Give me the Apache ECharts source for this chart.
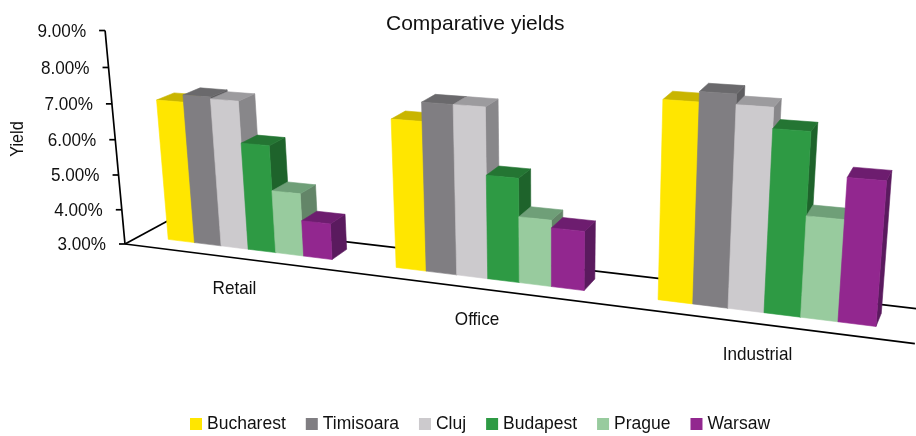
<!DOCTYPE html>
<html>
<head>
<meta charset="utf-8">
<style>html,body{margin:0;padding:0;background:#fff}#c{width:916px;height:436px}</style>
<script src="https://cdn.jsdelivr.net/npm/echarts@6/dist/echarts.min.js"></script>
</head>
<body>
<div id="c"></div>
<script>
const categories = ['Retail', 'Office', 'Industrial'];
const cities = ['Bucharest', 'Timisoara', 'Cluj', 'Budapest', 'Prague', 'Warsaw'];
const bucharest = [7.0, 7.0, 8.0];
const timisoara = [7.2, 7.5, 8.25];
const cluj = [7.15, 7.5, 8.0];
const budapest = [6.0, 5.75, 7.5];
const prague = [4.75, 4.75, 5.5];
const warsaw = [4.0, 4.55, 6.5];
const tickValues = [3, 4, 5, 6, 7, 8, 9];
const tickLabels = ['3.00%', '4.00%', '5.00%', '6.00%', '7.00%', '8.00%', '9.00%'];

const cityValues = [bucharest, timisoara, cluj, budapest, prague, warsaw];
const frontColors = ['#FFE600', '#807E82', '#CCCACD', '#2E9A44', '#98CB9E', '#92278F'];
const topColors = ['#C9B500', '#6A696C', '#9C9B9E', '#247533', '#6F9F78', '#6D1D6F'];
const sideColors = ['#B3A200', '#5E5D60', '#88878A', '#1E632B', '#638568', '#5A1A5E'];

const FONT = '"Liberation Sans", Arial, sans-serif';
const yMin = 3, yMax = 9;

// Three-point perspective camera: world X = category units, Y = percent above axis min, Z = floor depth 0..1
const ORIGIN = [125, 244];
const VP_X = [-3117, -165], VP_Y = [550, 4800], VP_Z = [1127, -296];
const PX = -0.0653, PY = -0.00746, PZ = 0.0448;
function project(X, Y, Z) {
  const a = PX * X, b = PY * Y, c = PZ * Z, w = 1 + a + b + c;
  return [
    (ORIGIN[0] + a * VP_X[0] + b * VP_Y[0] + c * VP_Z[0]) / w,
    (ORIGIN[1] + a * VP_X[1] + b * VP_Y[1] + c * VP_Z[1]) / w
  ];
}
const BAR_W = 0.122, GROUP_PAD = 0.1335, Z0 = 0.34, Z1 = 0.74;
const NARROW = 0.9;

function worldX(px, cs) { return (px - cs.x) / cs.width * categories.length; }
function worldY(py, cs) { return (cs.y + cs.height - py) / cs.height * (yMax - yMin); }
function poly(points, fill) {
  return { type: 'polygon', shape: { points }, style: { fill, stroke: fill, lineWidth: 0.6 } };
}
function seg(a, b) {
  return { type: 'line', shape: { x1: a[0], y1: a[1], x2: b[0], y2: b[1] },
           style: { stroke: '#000', lineWidth: 1.7 } };
}

function barRenderer(j) {
  return function (params, api) {
    const cs = params.coordSys;
    const pt = api.coord([api.value(0), api.value(1)]);
    const band = api.size([1, 0])[0];
    const base = api.coord([api.value(0), yMin]);
    const xL = worldX(pt[0] - band / 2, cs) + GROUP_PAD + j * BAR_W;
    const xR = xL + BAR_W;
    const y1 = worldY(pt[1], cs), y0 = worldY(base[1], cs);
    const fbl = project(xL, y0, Z0), fbr = project(xR, y0, Z0);
    const ftl = project(xL, y1, Z0), ftr = project(xR, y1, Z0);
    const bbr = project(xR, y0, Z1), btr = project(xR, y1, Z1), btl = project(xL, y1, Z1);
    return { type: 'group', children: [
      poly([fbr, bbr, btr, ftr], sideColors[j]),
      poly([ftl, ftr, btr, btl], topColors[j]),
      poly([fbl, fbr, ftr, ftl], frontColors[j])
    ] };
  };
}

function frameRenderer(params, api) {
  const cs = params.coordSys;
  const band = api.size([1, 0])[0];
  const left = worldX(api.coord([0, yMin])[0] - band / 2, cs);
  const right = worldX(api.coord([categories.length - 1, yMin])[0] + band / 2, cs);
  const top = worldY(api.coord([0, yMax])[1], cs);
  return { type: 'group', children: [
    seg(project(left, 0, 0), project(left, top, 0)),
    seg(project(left, 0, 0), project(left, 0, 1)),
    seg(project(left, 0, 1), project(right, 0, 1)),
    seg(project(left, 0, 0), project(right, 0, 0)),
    { type: 'text', x: 18, y: 139, rotation: Math.PI / 2, scaleX: NARROW,
      style: { text: 'Yield', fill: '#111', font: '18px ' + FONT, align: 'center', verticalAlign: 'middle' } }
  ] };
}

function tickRenderer(params, api) {
  const cs = params.coordSys;
  const band = api.size([1, 0])[0];
  const pt = api.coord([0, api.value(1)]);
  const p = project(worldX(pt[0] - band / 2, cs), worldY(pt[1], cs), 0);
  return { type: 'group', children: [
    { type: 'line', shape: { x1: p[0] - 6, y1: p[1], x2: p[0], y2: p[1] }, style: { stroke: '#000', lineWidth: 1.7 } },
    { type: 'text', x: p[0] - 19, y: p[1] + 1, scaleX: NARROW,
      style: { text: tickLabels[params.dataIndex], fill: '#111', font: '19px ' + FONT, align: 'right', verticalAlign: 'middle' } }
  ] };
}

function categoryRenderer(params, api) {
  const cs = params.coordSys;
  const pt = api.coord([api.value(0), yMin]);
  const p = project(worldX(pt[0], cs), worldY(pt[1], cs), 0);
  return { type: 'text', x: p[0], y: p[1] + 31, scaleX: NARROW,
    style: { text: categories[params.dataIndex], fill: '#111', font: '19px ' + FONT, align: 'center', verticalAlign: 'middle' } };
}

const chart = echarts.init(document.getElementById('c'), null, { renderer: 'canvas' });
chart.setOption({
  animation: false,
  backgroundColor: '#fff',
  title: { text: 'Comparative yields', left: 386, top: 14, padding: 0,
    textStyle: { fontFamily: FONT, fontSize: 21, fontWeight: 'normal', color: '#111' } },
  legend: { data: cities, icon: 'rect', left: 190, top: 415, padding: 0, itemWidth: 12, itemHeight: 12, itemGap: 20,
    textStyle: { fontFamily: FONT, fontSize: 17.5, color: '#111' } },
  grid: { left: 0, right: 0, top: 0, bottom: 0, containLabel: false },
  xAxis: { type: 'category', data: categories, show: false },
  yAxis: { type: 'value', min: yMin, max: yMax, interval: 1, show: false },
  series: [
    { type: 'custom', name: 'frame', silent: true, clip: false, z: 1,
      data: [[0, yMin]], encode: { x: 0, y: 1 }, renderItem: frameRenderer },
    { type: 'custom', name: 'ticks', silent: true, clip: false, z: 1,
      data: tickValues.map(v => [0, v]), encode: { x: 0, y: 1 }, renderItem: tickRenderer },
    { type: 'custom', name: 'categories', silent: true, clip: false, z: 1,
      data: categories.map((c, i) => [i, yMin]), encode: { x: 0, y: 1 }, renderItem: categoryRenderer }
  ].concat(cities.map((name, j) => ({
    type: 'custom', name, clip: false, z: 2 + j,
    itemStyle: { color: frontColors[j] },
    data: cityValues[j].map((v, i) => [i, v]), encode: { x: 0, y: 1 },
    renderItem: barRenderer(j)
  })))
});
</script>
</body>
</html>
